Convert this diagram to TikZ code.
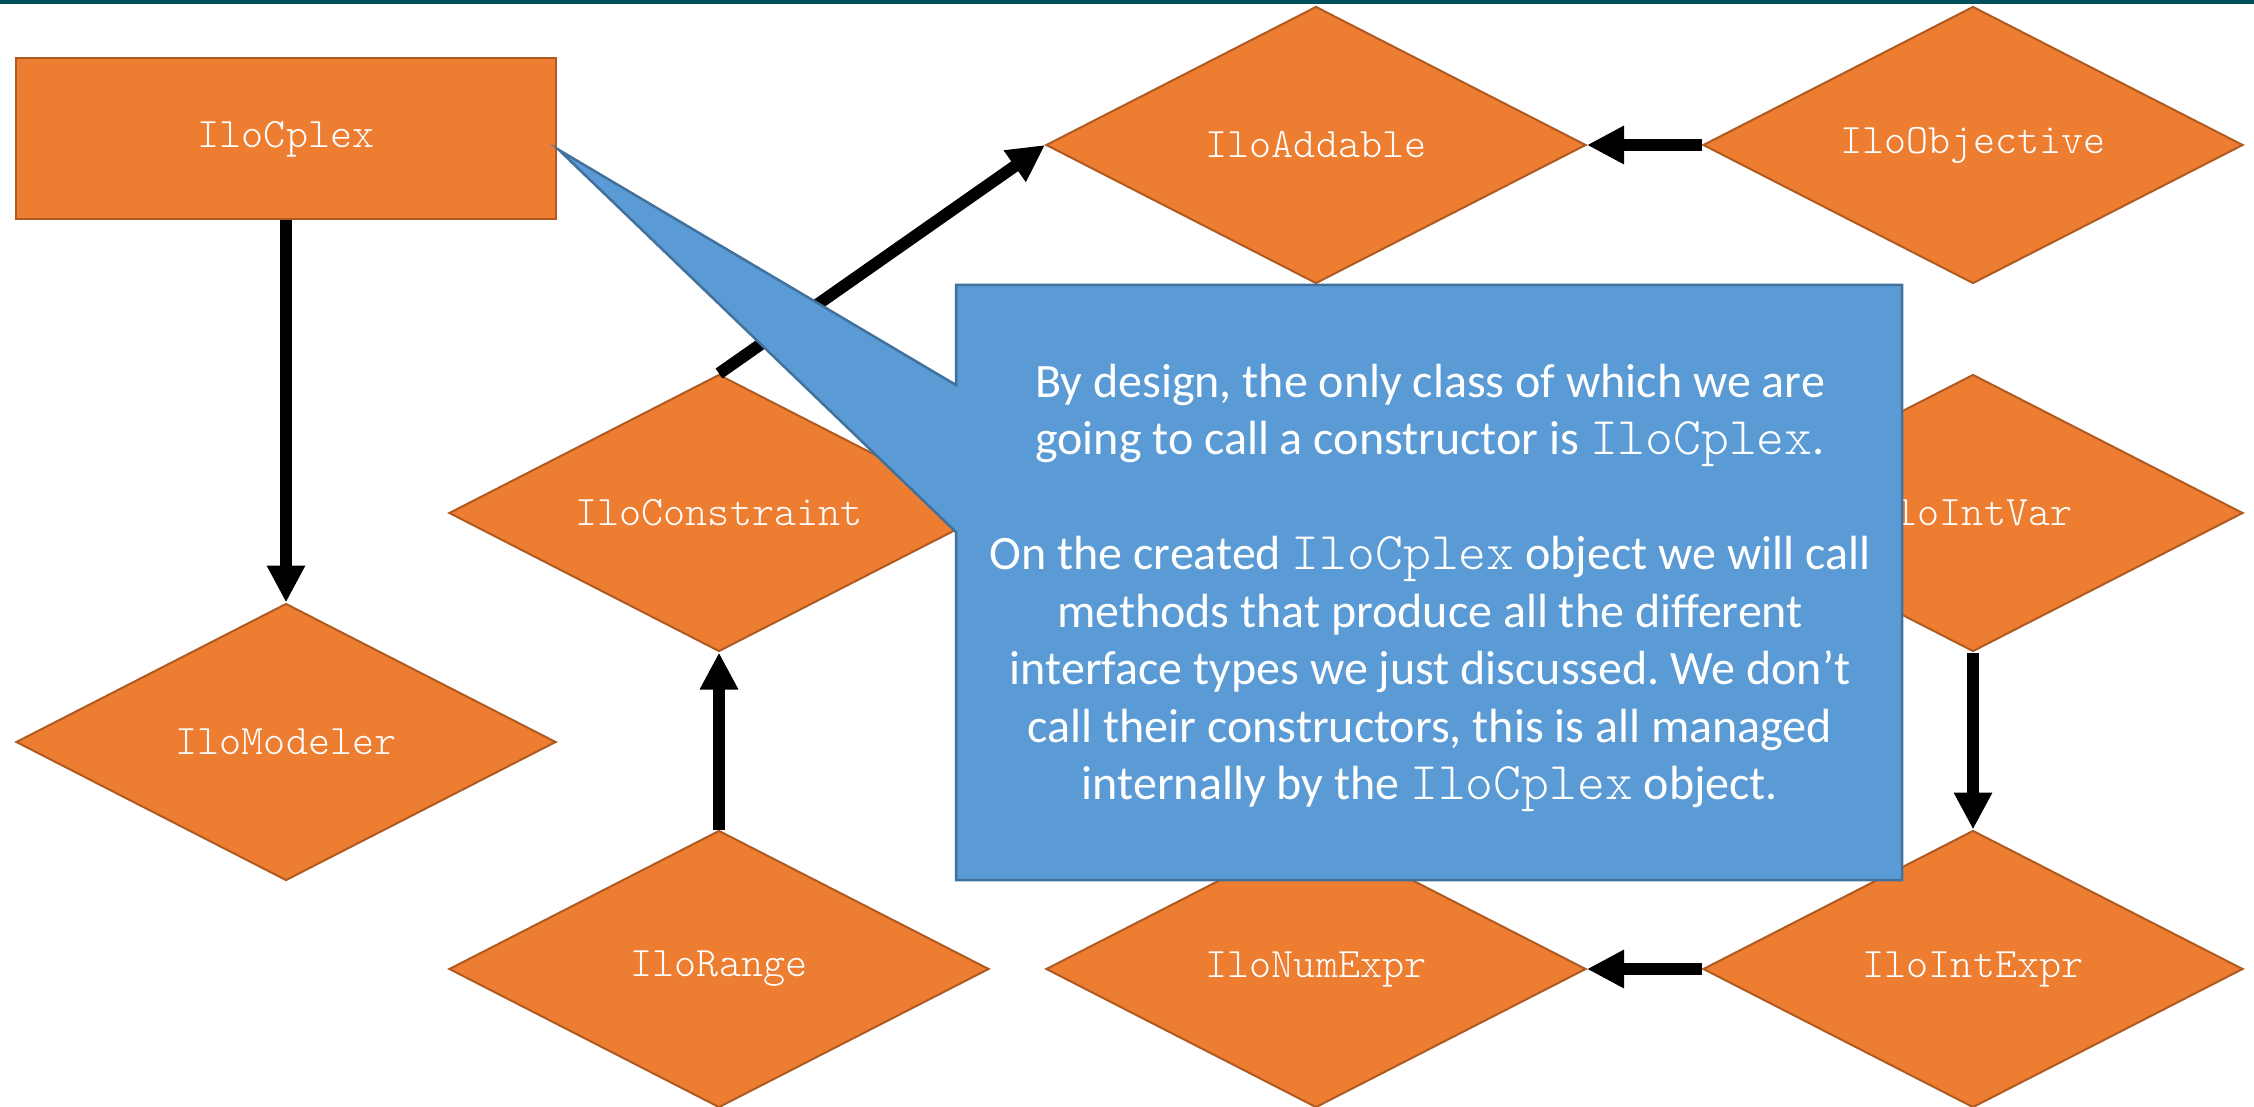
\documentclass[tikz,border=0pt]{standalone}
\usepackage{fontspec}
\setmainfont{Carlito}
\newfontfamily\codefont{lmmonolt10-regular.otf}
\usetikzlibrary{shapes.geometric, arrows.meta, positioning}
\frenchspacing

\definecolor{ifaceFill}{HTML}{ED7D31}
\definecolor{ifaceLine}{HTML}{AE5A21}
\definecolor{noteFill}{HTML}{5B9BD5}
\definecolor{noteLine}{HTML}{41719C}
\definecolor{topBar}{HTML}{00505C}

% class names inside the note
\newcommand{\clsname}[1]{{\codefont\fontsize{53}{57.5}\selectfont #1}}

\begin{document}
\begin{tikzpicture}[x=1pt,y=-1pt,>={Triangle[length=37pt,width=36pt]}]
		\tikzstyle{iface}=[diamond,aspect=1.95,minimum width=540pt,minimum height=277pt,inner sep=0pt,
			fill=ifaceFill,draw=ifaceLine,line width=2pt,text=white,font=\codefont\fontsize{42}{44}\selectfont]
		\tikzstyle{cls}=[rectangle,minimum width=540pt,minimum height=161pt,inner sep=0pt,
			fill=ifaceFill,draw=ifaceLine,line width=2pt,text=white,font=\codefont\fontsize{42}{44}\selectfont]
		\tikzstyle{inherit}=[->,line width=12pt,black]
		\tikzstyle{callout}=[fill=noteFill,draw=noteLine,line width=2.5pt,line join=miter]

		\useasboundingbox (0,0) rectangle (2254,1107);
		\fill[topBar] (0,0) rectangle (2254,4);

		% interfaces
		\node[iface] (modeler) at (286,742)		{IloModeler};
		\node[cls] (cplex) [above=382pt of modeler]	{IloCplex};
		\node[iface] (range) at (719,969)		{IloRange};
		\node[iface] (constraint) [above=177pt of range]	{IloConstraint};
		\node[iface] (numexpr) [right=55pt of range]	{IloNumExpr};
		\node[iface] (intexpr) [right=115pt of numexpr]	{IloIntExpr};
		\node[iface] (intvar) [above=177pt of intexpr]	{IloIntVar};
		\node[iface] (addable) [above=545pt of numexpr]	{IloAddable};
		\node[iface] (objective) [right=115pt of addable]	{IloObjective};

		% arrows
		\draw[inherit] (cplex.south) -- (modeler.north);
		\draw[inherit] (constraint.north) -- (addable.west);
		\draw[inherit] (range.north) -- (constraint.south);
		\draw[inherit] (objective.west) -- (addable.east);
		\draw[inherit] (intvar.south) -- (intexpr.north);
		\draw[inherit] (intexpr.west) -- (numexpr.east);

		% callout
		\coordinate (nw) at (956,285);
		\coordinate (ne) at (1902,285);
		\coordinate (se) at (1902,880);
		\coordinate (sw) at (956,880);
		\coordinate (low) at (956,532);
		\coordinate (high) at (956,385);
		\coordinate (tip) at (559,150);
		\filldraw[callout] (nw) -- (ne) -- (se) -- (sw) -- (low) -- (tip) -- (high) -- cycle;
		\node[text=white,align=center,font=\fontsize{48}{57.5}\selectfont] (note) at (1430,588)
			{By design, the only class of which we are\\
			going to call a constructor is \clsname{IloCplex}.\\[57.5pt]
			On the created \clsname{IloCplex} object we will call\\
			methods that produce all the different\\
			interface types we just discussed. We don’t\\
			call their constructors, this is all managed\\
			internally by the \clsname{IloCplex} object.};

	\end{tikzpicture}
\end{document}
